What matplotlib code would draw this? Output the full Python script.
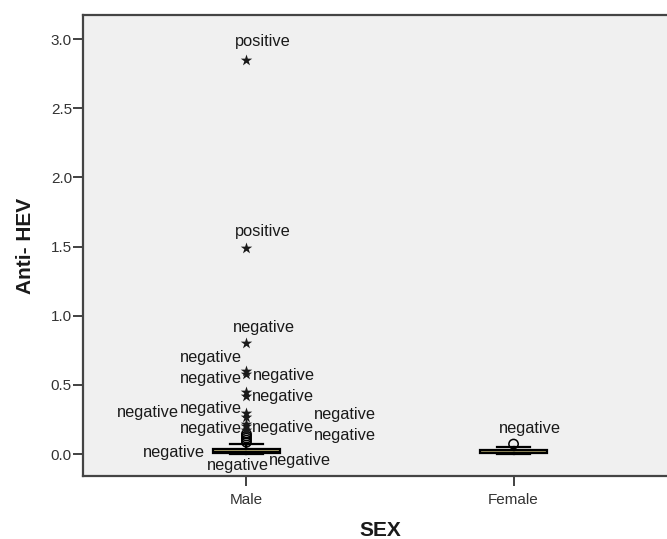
import matplotlib
matplotlib.use("Agg")
import matplotlib.pyplot as plt

plt.rcParams["font.family"] = ["Liberation Sans", "DejaVu Sans"]

# ---- data ----
groups = ["Male", "Female"]

# box statistics per group: whislo, q1, med, q3, whishi
male_box = dict(whislo=0.0, q1=0.010, med=0.022, q3=0.035, whishi=0.072)
female_box = dict(whislo=0.0, q1=0.004, med=0.012, q3=0.030, whishi=0.050)

# outliers (circles) and extremes (stars)
male_outliers = [0.145, 0.130, 0.115, 0.100, 0.085]
male_extremes = [2.85, 1.49, 0.80, 0.60, 0.575, 0.45, 0.42, 0.30, 0.27, 0.22, 0.20, 0.17]
female_outliers = [0.072]
female_extremes = []

# case labels: (group index, value the label belongs to, text)
case_labels = [
    (0, 2.85, "positive"),
    (0, 1.49, "positive"),
    (0, 0.80, "negative"),
    (0, 0.60, "negative"),
    (0, 0.575, "negative"),
    (0, 0.45, "negative"),
    (0, 0.42, "negative"),
    (0, 0.30, "negative"),
    (0, 0.27, "negative"),
    (0, 0.22, "negative"),
    (0, 0.20, "negative"),
    (0, 0.17, "negative"),
    (0, 0.145, "negative"),
    (0, 0.130, "negative"),
    (0, 0.115, "negative"),
    (0, 0.100, "negative"),
    (1, 0.072, "negative"),
]
# label offsets from their point, in pixels (dx right, dy up)
label_offsets = [
    (16, 18), (16, 16), (17, 16), (-36, 14), (37, -1), (-36, 13), (36, -1),
    (-99, 0), (-36, 8), (98, 9), (-36, -2), (36, 3), (98, -2),
    (-73, -16), (-9, -27), (53, -20), (16, 16),
]

positions = [1, 2]

fig = plt.figure(figsize=(6.67, 5.39), dpi=100)
ax = fig.add_axes([83 / 667, 63 / 539, (677 - 83) / 667, (476 - 15) / 539])
ax.set_facecolor("#f0f0f0")

stats = []
for name, box in zip(groups, [male_box, female_box]):
    s = dict(box)
    s["label"] = name
    s["fliers"] = []
    stats.append(s)

ax.bxp(stats, positions=positions, widths=0.25, patch_artist=True,
       showfliers=False,
       boxprops=dict(facecolor="#d8cc86", edgecolor="black", linewidth=1.6),
       medianprops=dict(color="black", linewidth=1.0),
       whiskerprops=dict(color="black", linewidth=1.6),
       capprops=dict(color="black", linewidth=1.6),
       capwidths=0.125)

for pos, outs, exts in zip(positions, [male_outliers, female_outliers],
                           [male_extremes, female_extremes]):
    ax.scatter([pos] * len(outs), outs, s=45, facecolors="none",
               edgecolors="black", linewidths=1.1, zorder=4)
    if exts:
        ax.scatter([pos] * len(exts), exts, marker="*", s=75, color="#1a1a1a",
                   linewidths=0, zorder=4)

for (gi, val, txt), (dx, dy) in zip(case_labels, label_offsets):
    ax.annotate(txt, (positions[gi], val), xytext=(dx, dy),
                textcoords="offset pixels", ha="center", va="center",
                fontsize=11.8, color="#1a1a1a", zorder=5)

ax.set_xlim(0.388, 2.612)
ax.set_ylim(-0.159, 3.174)
ax.set_yticks([0.0, 0.5, 1.0, 1.5, 2.0, 2.5, 3.0])
ax.set_yticklabels([f"{v:.1f}" for v in [0.0, 0.5, 1.0, 1.5, 2.0, 2.5, 3.0]])
ax.set_xticks(positions)
ax.set_xticklabels(groups)
ax.tick_params(axis="both", direction="out", length=7, width=1.3,
               color="#333333", labelcolor="#333333", labelsize=11)
ax.tick_params(axis="x", pad=5)
ax.tick_params(axis="y", pad=1)

for side in ["left", "bottom", "top"]:
    ax.spines[side].set_linewidth(1.6)
    ax.spines[side].set_color("#444444")
ax.spines["right"].set_visible(False)

ax.set_ylabel("Anti- HEV", fontsize=15, fontweight="bold", color="#1a1a1a",
              labelpad=11)
ax.set_xlabel("SEX", fontsize=15, fontweight="bold", color="#1a1a1a")
ax.xaxis.label.set_va("center")
ax.xaxis.set_label_coords((380 - 83) / (677 - 83), (476 - 530) / (476 - 15))

fig.savefig("out.png", dpi=100)
